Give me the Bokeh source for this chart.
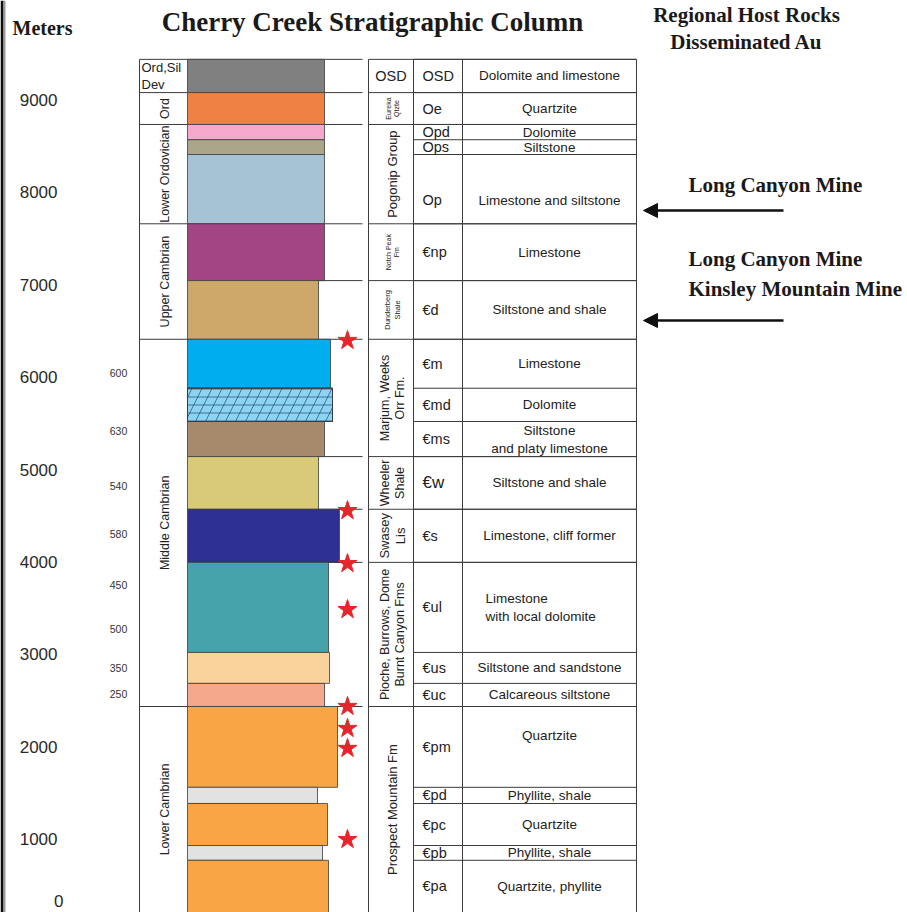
import numpy as np
from bokeh.plotting import figure
from bokeh.models import Range1d, FixedTicker, Arrow, NormalHead, ColumnDataSource, Label
from bokeh.core.properties import value
from bokeh.embed import file_html
from bokeh.resources import INLINE

# ------------------------------------------------------------------ data
depth_ticks_m = [0, 1000, 2000, 3000, 4000, 5000, 6000, 7000, 8000, 9000]

period_names = ["Ord,Sil\nDev", "Ord", "Lower Ordovician", "Upper Cambrian",
                "Middle Cambrian", "Lower Cambrian"]
period_top_m = [9440, 9080, 8735, 7660, 6410, 2435]

formation_names = ["OSD", "Eureka\nQtzte", "Pogonip Group", "Notch Peak\nFm",
                   "Dunderberg\nShale", "Marjum, Weeks\nOrr Fm.", "Wheeler\nShale",
                   "Swasey\nLis", "Pioche, Burrows, Dome\nBurnt Canyon Fms",
                   "Prospect Mountain Fm"]
formation_top_m = [9440, 9080, 8735, 7660, 7045, 6410, 5140, 4570, 3995, 2435]

unit_symbols = ["OSD", "Oe", "Opd", "Ops", "Op", "€np", "€d", "€m", "€md", "€ms",
                "€w", "€s", "€ul", "€us", "€uc", "€pm", "€pd", "€pc", "€pb", "€pa"]
unit_lithology = ["Dolomite and limestone", "Quartzite", "Dolomite", "Siltstone",
                  "Limestone and siltstone", "Limestone", "Siltstone and shale",
                  "Limestone", "Dolomite", "Siltstone\nand platy limestone",
                  "Siltstone and shale", "Limestone, cliff former",
                  "Limestone\nwith local dolomite", "Siltstone and sandstone",
                  "Calcareous siltstone", "Quartzite", "Phyllite, shale",
                  "Quartzite", "Phyllite, shale", "Quartzite, phyllite"]
unit_top_m = [9440, 9080, 8735, 8570, 8410, 7660, 7045, 6410, 5880, 5520,
              5140, 4570, 3995, 3020, 2685, 2435, 1560, 1385, 930, 770]
section_base_m = 0
# weathering profile: relative relief of each unit (resistant units stand out)
unit_relief = [0, 0, 0, 0, 0, 0, -6, 6, 8, 0, -6, 15, 4, 5, 0, 13, -7, 3, -2, 4]

thickness_labels = ["600", "630", "540", "580", "450", "500", "350", "250"]
thickness_label_m = [6040, 5422, 4827, 4307, 3745, 3279, 2857, 2565]

host_star_m = [6397, 4555, 3982, 3484, 2435, 2197, 1981, 995]

mine_names = ["Long Canyon Mine", "Long Canyon Mine\nKinsley Mountain Mine"]
mine_arrow_m = [7804, 6613]

# ------------------------------------------------------------------ style / layout
unit_colors = ["#808080", "#ef8243", "#f3a8cc", "#a9a68a", "#a5c3d5", "#a34484",
               "#cea86b", "#00aeef", "#8dd4f3", "#a68a6b", "#d8ca79", "#2e3192",
               "#46a3ab", "#fad29c", "#f4a88c", "#f8a546", "#e2e2e2", "#f8a546",
               "#e2e2e2", "#f8a546"]
hatched_units = ["€md"]
period_rotated = [False, True, True, True, True, True]
formation_rotated = [False, True, True, True, True, True, True, True, True, True]
formation_font = ["14.5px", "7px", "13px", "7px", "7.5px", "12.5px", "12.5px",
                  "13px", "12.5px", "13px"]
# small vertical nudges (px, + = up) of row texts, as in the reference layout
sym_nudge_px = {"Op": -11}
desc_nudge_px = {"Op": -11, "€pm": 11}
sym_font = {"€w": "17px"}
left_aligned_desc = {"Limestone\nwith local dolomite": 485}

W, H = 907, 912
Y_TOP_M, Y_BOT_M = 10077, 205
K = H / (Y_TOP_M - Y_BOT_M)          # px per metre


def px(n):
    return n / K


def at_px(py):                       # window pixel row -> metres
    return Y_TOP_M - py / K


AXIS_X = 70
PERIOD_L, COL_L, COL_R, STAR_X, LINE_R = 139, 187, 324, 347, 362
TAB_L, TAB_SYM, TAB_DESC, TAB_R = 368, 413, 462, 636
PERIOD_TX, THICK_TX, FORM_TX, SYM_TX, DESC_TX = 164, 118, 392, 422, 549
LINE_C = "#3c3c3c"
SANS = "Liberation Sans"
SERIF = "Liberation Serif"

unit_base_m = unit_top_m[1:] + [section_base_m]
formation_base_m = formation_top_m[1:] + [section_base_m]
period_base_m = period_top_m[1:] + [section_base_m]


def vis_mid(top, base):
    return (top + max(base, Y_BOT_M)) / 2


p = figure(width=W, height=H, x_range=Range1d(0, W),
           y_range=Range1d(Y_BOT_M, Y_TOP_M), output_backend="svg",
           toolbar_location=None, x_axis_location=None, y_axis_location="left",
           min_border_left=0, min_border_right=0,
           min_border_top=0, min_border_bottom=0)
p.grid.visible = False
p.outline_line_color = None
p.background_fill_color = "white"
p.border_fill_color = "white"

ax = p.yaxis[0]
ax.fixed_location = AXIS_X
ax.ticker = FixedTicker(ticks=depth_ticks_m)
ax.axis_line_color = None
ax.major_tick_line_color = None
ax.minor_tick_line_color = None
ax.major_label_standoff = 7
ax.major_label_text_font = SANS
ax.major_label_text_font_size = "17px"
ax.major_label_text_color = "#2a2a2a"

# dark scanned page edge on the left
p.quad(left=[0, 3], right=[3, 5], top=[Y_TOP_M] * 2, bottom=[Y_BOT_M] * 2,
       fill_color=["#0d0d0d", "#9a9a9a"], line_color=None)

# ------------------------------------------------------------------ frame lines
top = unit_top_m[0]
p.segment(x0=PERIOD_L, x1=COL_L, y0=period_top_m, y1=period_top_m,
          line_color=LINE_C, line_width=1)
p.segment(x0=COL_L, x1=LINE_R, y0=formation_top_m, y1=formation_top_m,
          line_color=LINE_C, line_width=1)
p.segment(x0=TAB_L, x1=TAB_R, y0=formation_top_m, y1=formation_top_m,
          line_color=LINE_C, line_width=1)
p.segment(x0=TAB_SYM, x1=TAB_R, y0=unit_top_m, y1=unit_top_m,
          line_color=LINE_C, line_width=1)
vx = [PERIOD_L, TAB_L, TAB_SYM, TAB_DESC, TAB_R]
p.segment(x0=vx, x1=vx, y0=[top] * len(vx), y1=[section_base_m] * len(vx),
          line_color=LINE_C, line_width=1)

# ------------------------------------------------------------------ lithologic column
col_src = ColumnDataSource(dict(
    top=unit_top_m, bottom=unit_base_m,
    right=[COL_R + r for r in unit_relief], color=unit_colors))
p.quad(left=COL_L, right="right", top="top", bottom="bottom", source=col_src,
       fill_color="color", line_color=LINE_C, line_width=0.8)

for sym in hatched_units:
    i = unit_symbols.index(sym)
    for pat, sc in (("-", 8), ("/", 20)):
        p.quad(left=[COL_L], right=[COL_R + unit_relief[i]], top=[unit_top_m[i]],
               bottom=[unit_base_m[i]], fill_alpha=0, line_color=LINE_C,
               line_width=0.8, hatch_pattern=pat, hatch_scale=sc,
               hatch_color="#1d4a74", hatch_weight=0.7)

# host-rock stars
p.scatter(x=[STAR_X] * len(host_star_m), y=host_star_m, marker="star", size=20,
          fill_color="#e4252b", line_color="#e4252b")

# thickness labels
p.text(x=[THICK_TX] * len(thickness_labels), y=thickness_label_m,
       text=thickness_labels, text_font=value(SANS), text_font_size="10.5px",
       text_align="center", text_baseline="middle", text_color="#333333")

# ------------------------------------------------------------------ period column texts
for name, t, b, rot in zip(period_names, period_top_m, period_base_m, period_rotated):
    if rot:
        p.text(x=[PERIOD_TX], y=[vis_mid(t, b)], text=[name], angle=np.pi / 2,
               text_font=value(SANS), text_font_size="12.5px", text_align="center",
               text_baseline="middle", text_color="#222222")
    else:
        p.text(x=[PERIOD_L + 2], y=[vis_mid(t, b)], text=[name],
               text_font=value(SANS), text_font_size="13px", text_align="left",
               text_baseline="middle", text_color="#222222", text_line_height=1.1)

# ------------------------------------------------------------------ formation texts
for name, t, b, rot, fs in zip(formation_names, formation_top_m, formation_base_m,
                               formation_rotated, formation_font):
    p.text(x=[FORM_TX if rot else (TAB_L + TAB_SYM) / 2], y=[vis_mid(t, b)], text=[name],
           angle=np.pi / 2 if rot else 0, text_font=value(SANS), text_font_size=fs,
           text_align="center", text_baseline="middle", text_color="#222222",
           text_line_height=1.1)

# ------------------------------------------------------------------ unit symbols & lithology
centres = [vis_mid(t, b) for t, b in zip(unit_top_m, unit_base_m)]
sym_src = ColumnDataSource(dict(
    x=[SYM_TX] * len(unit_symbols),
    y=[c + px(sym_nudge_px.get(s, 0)) for s, c in zip(unit_symbols, centres)],
    text=unit_symbols, fs=[sym_font.get(s, "14.5px") for s in unit_symbols]))
p.text(x="x", y="y", text="text", source=sym_src, text_font_size="fs",
       text_font=value(SANS), text_align="left",
       text_baseline="middle", text_color="#222222")
desc_src = ColumnDataSource(dict(
    x=[left_aligned_desc.get(d, DESC_TX) for d in unit_lithology],
    y=[c + px(desc_nudge_px.get(s, 0)) for s, c in zip(unit_symbols, centres)],
    text=unit_lithology,
    align=["left" if d in left_aligned_desc else "center" for d in unit_lithology]))
p.text(x="x", y="y", text="text", source=desc_src, text_align="align",
       text_font=value(SANS), text_font_size="13.5px",
       text_baseline="middle", text_color="#222222", text_line_height=1.2)

# ------------------------------------------------------------------ headings
p.text(x=[372], y=[at_px(21)], text=["Cherry Creek Stratigraphic Column"],
       text_font=value(SERIF), text_font_style="bold", text_font_size="27px",
       text_align="center", text_baseline="middle", text_color="#1a1a1a")
p.text(x=[746], y=[at_px(28)], text=["Regional Host Rocks\nDisseminated Au"],
       text_font=value(SERIF), text_font_style="bold", text_font_size="21px",
       text_align="center", text_baseline="middle", text_color="#1a1a1a",
       text_line_height=1.15)
p.text(x=[12], y=[at_px(27)], text=["Meters"], text_font=value(SERIF),
       text_font_style="bold", text_font_size="20px", text_align="left",
       text_baseline="middle", text_color="#1a1a1a")
p.add_layout(Label(x=AXIS_X - 7, y=at_px(900), text="0", text_font=SANS,
                   text_font_size="17px", text_align="right",
                   text_baseline="middle", text_color="#2a2a2a"))

# ------------------------------------------------------------------ mines & arrows
text_above_px = [25, 47]
for name, m, off in zip(mine_names, mine_arrow_m, text_above_px):
    p.text(x=[688], y=[m + px(off)], text=[name], text_font=value(SERIF),
           text_font_style="bold", text_font_size="21px", text_align="left",
           text_baseline="middle", text_color="#1a1a1a", text_line_height=1.25)
    p.add_layout(Arrow(end=NormalHead(size=14, fill_color="#111111",
                                      line_color="#111111"),
                       x_start=783, x_end=643, y_start=m, y_end=m,
                       line_width=2.5, line_color="#111111"))

open("out.html", "w").write(file_html(p, INLINE))
